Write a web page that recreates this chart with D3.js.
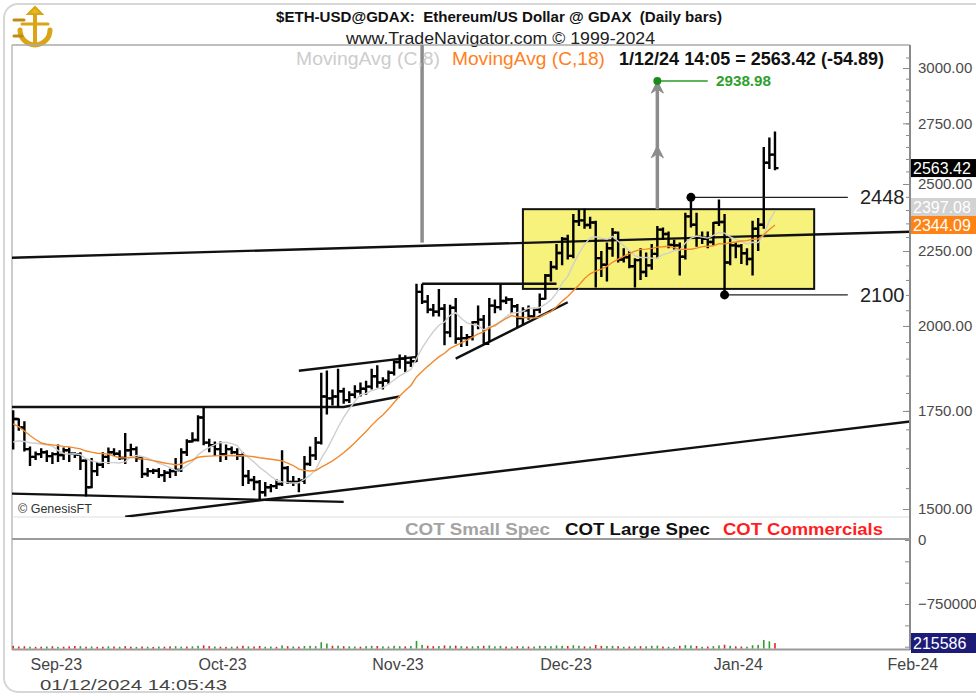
<!DOCTYPE html>
<html>
<head>
<meta charset="utf-8">
<title>ETH-USD daily bars</title>
<script src="https://cdn.jsdelivr.net/npm/d3@7"></script>
<style>
  body { margin: 0; background: #fff; }
  svg { display: block; }
  text { font-family: "Liberation Sans Narrow", "Arial Narrow", "Liberation Sans", Arial, sans-serif; }
</style>
</head>
<body>
<svg width="976" height="696"></svg>
<script>
// ---- data ----
const firstDay = "2023-08-29";

// closes before the first bar, only used to warm up the moving averages
const warmupCloses = [1850, 1848, 1843, 1827, 1805, 1685, 1665, 1668, 1683, 1660, 1680, 1662, 1655, 1645, 1655, 1650, 1658];

const opens = [
  1652, 1728, 1705,
  1648, 1628, 1635, 1640, 1630, 1635, 1633, 1645, 1636, 1634, 1618, 1552, 1592, 1608, 1628, 1640, 1636, 1625, 1645, 1648, 1625, 1585, 1592, 1593, 1582, 1588, 1592, 1595, 1640, 1668,
  1672, 1732, 1665, 1658, 1648, 1635, 1648, 1640, 1632, 1580, 1570, 1565, 1540, 1552, 1555, 1560, 1600, 1565, 1565, 1568, 1610, 1632, 1665, 1790, 1785, 1790, 1805, 1780, 1795, 1805, 1812,
  1818, 1848, 1830, 1835, 1858, 1890, 1900, 1888, 1892, 2110, 2078, 2052, 2045, 2055, 1980, 2058, 1960, 1962, 1965, 2012, 2020, 1945, 2065, 2060, 2080, 2085, 2063, 2025, 2050, 2030,
  2052, 2087, 2165, 2194, 2243, 2293, 2233, 2358, 2361, 2344, 2353, 2225, 2202, 2260, 2316, 2220, 2228, 2197, 2218, 2177, 2200, 2240, 2327, 2311, 2272, 2270, 2230, 2376, 2345, 2300, 2294,
  2282, 2352, 2355, 2210, 2270, 2268, 2242, 2222, 2330, 2345, 2585, 2618
];
const highs = [
  1752, 1729, 1722,
  1655, 1642, 1650, 1645, 1640, 1660, 1652, 1652, 1640, 1640, 1623, 1625, 1615, 1640, 1652, 1650, 1645, 1690, 1662, 1655, 1630, 1600, 1598, 1600, 1595, 1598, 1625, 1650, 1674, 1692,
  1738, 1760, 1675, 1668, 1668, 1660, 1655, 1650, 1640, 1595, 1580, 1570, 1565, 1560, 1572, 1645, 1605, 1580, 1575, 1630, 1655, 1680, 1858, 1865, 1810, 1870, 1815, 1805, 1822, 1830, 1835,
  1870, 1880, 1845, 1865, 1895, 1912, 1910, 1905, 2137, 2137, 2100, 2070, 2120, 2070, 2068, 2090, 2000, 1975, 2015, 2065, 2035, 2090, 2085, 2135, 2095, 2090, 2070, 2060, 2065, 2058,
  2105, 2170, 2215, 2275, 2300, 2308, 2385, 2400, 2405, 2375, 2360, 2250, 2280, 2333, 2320, 2260, 2250, 2225, 2260, 2245, 2275, 2340, 2335, 2320, 2290, 2280, 2390, 2448, 2390, 2320, 2320,
  2355, 2440, 2385, 2295, 2280, 2275, 2260, 2360, 2370, 2650, 2690, 2715
];
const lows = [
  1647, 1696, 1642,
  1605, 1620, 1625, 1615, 1610, 1615, 1620, 1615, 1625, 1595, 1530, 1550, 1580, 1600, 1610, 1630, 1620, 1610, 1630, 1615, 1575, 1578, 1585, 1575, 1565, 1575, 1580, 1590, 1630, 1665,
  1668, 1658, 1640, 1630, 1615, 1620, 1635, 1620, 1555, 1560, 1545, 1522, 1530, 1540, 1548, 1555, 1560, 1555, 1540, 1560, 1605, 1620, 1660, 1740, 1765, 1760, 1770, 1772, 1785, 1790, 1795,
  1810, 1815, 1810, 1825, 1850, 1870, 1860, 1875, 1890, 2070, 2040, 2030, 2030, 1940, 1965, 1945, 1935, 1938, 1955, 1990, 1945, 1950, 2040, 2050, 2070, 2040, 1995, 2005, 2020, 2025,
  2040, 2085, 2145, 2185, 2200, 2220, 2225, 2340, 2330, 2330, 2125, 2160, 2145, 2230, 2210, 2210, 2190, 2125, 2150, 2160, 2185, 2225, 2290, 2260, 2255, 2165, 2220, 2335, 2265, 2275, 2260,
  2270, 2340, 2100, 2200, 2225, 2205, 2200, 2165, 2250, 2330, 2560, 2555
];
const closes = [
  1728, 1705, 1648,
  1628, 1635, 1640, 1630, 1635, 1633, 1645, 1636, 1634, 1618, 1552, 1592, 1608, 1628, 1640, 1636, 1625, 1645, 1648, 1625, 1585, 1592, 1593, 1582, 1588, 1592, 1595, 1640, 1668, 1672,
  1732, 1665, 1658, 1648, 1635, 1648, 1640, 1632, 1580, 1570, 1565, 1540, 1552, 1555, 1560, 1600, 1565, 1565, 1568, 1610, 1632, 1665, 1790, 1785, 1790, 1805, 1780, 1795, 1805, 1812, 1818,
  1848, 1830, 1835, 1858, 1890, 1900, 1888, 1892, 2110, 2078, 2052, 2045, 2055, 1980, 2058, 1960, 1962, 1965, 2012, 2020, 1945, 2065, 2060, 2080, 2085, 2063, 2025, 2050, 2030, 2052,
  2087, 2165, 2194, 2243, 2293, 2233, 2358, 2361, 2344, 2353, 2225, 2202, 2260, 2316, 2220, 2228, 2197, 2218, 2177, 2200, 2240, 2327, 2311, 2272, 2270, 2230, 2376, 2345, 2300, 2294, 2282,
  2352, 2355, 2210, 2270, 2268, 2242, 2222, 2330, 2345, 2585, 2618, 2563
];

// COT histogram (green = positive, red = negative)
const cotValues = [
  -30000, -22000, -25000,
  20000, -18000, -20000, 22000, -25000, 18000, -20000, -24000, -28000, 26000, -20000, 22000, -18000, -20000, 24000, -22000, 20000, -26000, -20000, 18000, -22000, 20000, -18000, 22000, -20000, -24000, 26000, 20000, -22000, 24000,
  30000, -35000, -26000, 22000, -20000, -18000, 20000, -22000, -30000, 24000, -22000, -28000, 20000, 22000, -18000, 34000, -26000, 22000, -20000, 28000, 30000, 26000, 70000, 55000, -30000, 32000, -26000, 24000, 22000, -20000, 26000,
  30000, -28000, 24000, 22000, 30000, 26000, -24000, 28000, 85000, 40000, -30000, -26000, 28000, -34000, 30000, -32000, 26000, -22000, 24000, 28000, -30000, 34000, 24000, 30000, -22000, 20000, -26000, 24000, -22000, 22000,
  30000, 28000, 26000, 34000, 30000, -28000, 36000, 30000, -24000, 22000, -40000, -30000, 28000, 30000, -26000, 20000, -22000, 24000, -26000, 24000, 30000, 32000, -22000, 20000, 18000, -30000, 38000, 34000, -28000, 20000, -22000,
  26000, 34000, -42000, 30000, -24000, -22000, 20000, 36000, 40000, 95000, 80000, -60000
];

const priceTicks = [1500, 1750, 2000, 2250, 2500, 2750, 3000];
const cotTickLabels = [0, -750000];

// drawn trend lines: [date, price] points
const trendLines = [
  [["2023-08-28", 2226], ["2024-02-06", 2320]],
  [["2023-09-18", 1482], ["2024-02-06", 1723]],
  [["2023-08-28", 1761], ["2023-10-27", 1761], ["2023-11-06", 1790]],
  [["2023-10-19", 1864], ["2023-11-09", 1905]],
  [["2023-08-28", 1537], ["2023-10-27", 1517]],
  [["2023-11-10", 2137], ["2023-12-04", 2137]],
  [["2023-11-16", 1900], ["2023-12-06", 2076]]
];
const rangeBox = { from: "2023-11-28", to: "2024-01-19", top: 2403, bottom: 2120 };
const levelMarks = [
  { date: "2023-12-28", price: 2448, end: "2024-01-25", label: "2448" },
  { date: "2024-01-03", price: 2100, end: "2024-01-25", label: "2100" }
];
const measuredMoves = [
  { date: "2023-11-10", from: 2280, to: 3150, heads: [] },
  { date: "2023-12-22", from: 2403, to: 2938.98, heads: [2938.98, 2655] }
];
const target = { date: "2023-12-22", price: 2938.98, end: "2023-12-31", label: "2938.98" };

const lastQuote = 2563.42;
const ma8Last = 2397.08;
const ma18Last = 2344.09;
const cotLast = "215586";

// ---- setup ----
const parse = d3.timeParse("%Y-%m-%d");
const svg = d3.select("svg");
const L = 12, R = 910, T = 45, B = 517;

const days = d3.timeDay.range(parse(firstDay), d3.timeDay.offset(parse(firstDay), closes.length));
const bars = days.map((d, i) => ({ date: d, o: opens[i], h: highs[i], l: lows[i], c: closes[i], cot: cotValues[i] }));

const x = d3.scaleTime().domain([new Date(2023, 8, 1), new Date(2024, 1, 1)]).range([30, 887]);
const y = d3.scaleLog().domain([1500, 3000]).range([509, 68]);
const yCot = d3.scaleLinear().domain([-1277000, 0]).range([649, 540]);
// histogram heights use their own scale
const hCot = d3.scaleLinear().domain([0, 100000]).range([0, 9]);

const allCloses = warmupCloses.concat(closes);
function movingAvg(n) {
  return bars.map((b, i) => {
    const k = i + warmupCloses.length;
    return { date: b.date, v: d3.mean(allCloses.slice(k - n + 1, k + 1)) };
  });
}

// outer frame
svg.append("rect").attr("x", 4).attr("y", 4).attr("width", 1010).attr("height", 688)
  .attr("rx", 14).attr("fill", "none").attr("stroke", "#d6d6d6").attr("stroke-width", 2);

// logo
const logo = svg.append("g").attr("fill", "none").attr("stroke", "#d9a514").attr("stroke-linecap", "round");
logo.append("path").attr("d", "M20,30 A15,15 0 0 0 50,30").attr("stroke-width", 5);
logo.append("line").attr("x1", 35).attr("y1", 9).attr("x2", 35).attr("y2", 44).attr("stroke-width", 4);
logo.append("line").attr("x1", 22).attr("y1", 24).attr("x2", 48).attr("y2", 24).attr("stroke-width", 3);
logo.append("path").attr("d", "M28,14 L35,7 L42,14 Z").attr("fill", "#e8b820").attr("stroke-width", 2);
logo.append("path").attr("d", "M14,20 L24,20 M14,36 L22,36").attr("stroke", "#c08a10").attr("stroke-width", 3);

// titles
svg.append("text").attr("x", 276).attr("y", 22).style("white-space", "pre")
  .attr("font-size", 15).attr("font-weight", "bold").attr("fill", "#111")
  .attr("textLength", 446).attr("lengthAdjust", "spacingAndGlyphs")
  .text("$ETH-USD@GDAX:  Ethereum/US Dollar @ GDAX  (Daily bars)");
svg.append("text").attr("x", 346).attr("y", 44)
  .attr("font-size", 17).attr("fill", "#222")
  .attr("textLength", 309).attr("lengthAdjust", "spacingAndGlyphs")
  .text("www.TradeNavigator.com \u00a9 1999-2024");

// panel borders
svg.append("line").attr("x1", L).attr("x2", R).attr("y1", T).attr("y2", T).attr("stroke", "#aaa").attr("stroke-width", 1.5);
svg.append("line").attr("x1", L).attr("x2", L).attr("y1", T).attr("y2", 650).attr("stroke", "#bbb").attr("stroke-width", 1.5);
svg.append("line").attr("x1", L).attr("x2", R).attr("y1", B).attr("y2", B).attr("stroke", "#ddd").attr("stroke-width", 1);

// clip for price panel
svg.append("clipPath").attr("id", "clipPrice").append("rect")
  .attr("x", L).attr("y", T).attr("width", R - L).attr("height", B - T);
const plot = svg.append("g").attr("clip-path", "url(#clipPrice)");

// yellow range box
plot.append("rect")
  .attr("x", x(parse(rangeBox.from))).attr("y", y(rangeBox.top))
  .attr("width", x(parse(rangeBox.to)) - x(parse(rangeBox.from)))
  .attr("height", y(rangeBox.bottom) - y(rangeBox.top))
  .attr("fill", "#f6f27c").attr("stroke", "#111").attr("stroke-width", 2);

// trend lines
const trendLine = d3.line().x(p => x(parse(p[0]))).y(p => y(p[1]));
plot.selectAll("path.trend").data(trendLines).enter().append("path")
  .attr("class", "trend").attr("d", trendLine)
  .attr("fill", "none").attr("stroke", "#111").attr("stroke-width", 2.4);

// gray measured-move arrows
measuredMoves.forEach(m => {
  const xm = x(parse(m.date));
  plot.append("line").attr("x1", xm).attr("x2", xm).attr("y1", y(m.from)).attr("y2", y(m.to))
    .attr("stroke", "#8c8c8c").attr("stroke-width", 3.5);
  m.heads.forEach(h => {
    const yh = y(h);
    plot.append("path").attr("d", `M${xm},${yh} L${xm - 6},${yh + 12} L${xm},${yh + 8} L${xm + 6},${yh + 12} Z`)
      .attr("fill", "#8c8c8c").attr("stroke", "#8c8c8c").attr("stroke-width", 1);
  });
});

// target label
const tx = x(parse(target.date)), ty = y(target.price);
svg.append("line").attr("x1", tx).attr("x2", x(parse(target.end))).attr("y1", ty).attr("y2", ty)
  .attr("stroke", "#2a9a2a").attr("stroke-width", 1.5);
svg.append("circle").attr("cx", tx).attr("cy", ty).attr("r", 4).attr("fill", "#1b8c1b");
svg.append("text").attr("x", 716).attr("y", ty + 5).attr("font-size", 14).attr("font-weight", "bold")
  .attr("fill", "#2f9f2f").attr("textLength", 55).attr("lengthAdjust", "spacingAndGlyphs").text(target.label);

// OHLC bars
const tick = 3.5;
plot.selectAll("path.bar").data(bars).enter().append("path")
  .attr("class", "bar")
  .attr("d", b => {
    const xb = x(b.date);
    return `M${xb},${y(b.h)}V${y(b.l)}M${xb - tick},${y(b.o)}H${xb}M${xb},${y(b.c)}H${xb + tick}`;
  })
  .attr("fill", "none").attr("stroke", "#000").attr("stroke-width", 2.4);

// moving averages
const maLine = d3.line().x(d => x(d.date)).y(d => y(d.v));
plot.append("path").datum(movingAvg(8)).attr("d", maLine)
  .attr("fill", "none").attr("stroke", "#cfcfcf").attr("stroke-width", 1.4);
plot.append("path").datum(movingAvg(18)).attr("d", maLine)
  .attr("fill", "none").attr("stroke", "#f28a2c").attr("stroke-width", 1.4);

// level marks with dots
levelMarks.forEach(m => {
  const xm = x(parse(m.date)), ym = y(m.price);
  svg.append("line").attr("x1", xm).attr("x2", x(parse(m.end))).attr("y1", ym).attr("y2", ym)
    .attr("stroke", "#222").attr("stroke-width", 1.3);
  svg.append("circle").attr("cx", xm).attr("cy", ym).attr("r", 4.5).attr("fill", "#000");
  svg.append("text").attr("x", 860).attr("y", ym + 7)
    .attr("font-family", "'Liberation Sans', Arial, sans-serif").attr("font-size", 20).attr("fill", "#222")
    .text(m.label);
});

// legend line
const legend = [
  { text: "MovingAvg (C,8)", x: 296, w: 144, color: "#cccccc", weight: "normal" },
  { text: "MovingAvg (C,18)", x: 452, w: 153, color: "#ff7f1e", weight: "normal" },
  { text: "1/12/24 14:05 = 2563.42 (-54.89)", x: 619, w: 265, color: "#111", weight: "bold" }
];
svg.selectAll("text.leg").data(legend).enter().append("text")
  .attr("class", "leg").attr("x", d => d.x).attr("y", 65)
  .attr("font-size", 18).attr("font-weight", d => d.weight).attr("fill", d => d.color)
  .attr("textLength", d => d.w).attr("lengthAdjust", "spacingAndGlyphs").text(d => d.text);

// copyright box
svg.append("rect").attr("x", L + 1).attr("y", 499).attr("width", 96).attr("height", 17).attr("fill", "#fff");
svg.append("text").attr("x", 18).attr("y", 513).attr("font-family", "'Liberation Sans', Arial, sans-serif")
  .attr("font-size", 12.5).attr("fill", "#333").text("\u00a9 GenesisFT");

// right price axis
const axisColor = "#8a8a8a";
const minorTicks = d3.range(1500, 3051, 50);
svg.append("g").attr("transform", `translate(${R},0)`)
  .call(d3.axisRight(y).tickValues(minorTicks).tickSizeInner(-4).tickSizeOuter(0).tickFormat(""))
  .call(g => g.select(".domain").remove())
  .call(g => g.selectAll("line").attr("stroke", axisColor));
svg.append("g").attr("transform", `translate(${R},0)`)
  .call(d3.axisRight(y).tickValues(priceTicks).tickSizeInner(-7).tickSizeOuter(0).tickPadding(8).tickFormat(d3.format(".2f")))
  .call(g => g.select(".domain").remove())
  .call(g => g.selectAll("line").attr("stroke", axisColor))
  .call(g => g.selectAll("text").attr("font-family", "'Liberation Sans', Arial, sans-serif")
    .attr("font-size", 15).attr("fill", "#4a4a4a"));
svg.append("line").attr("x1", R).attr("x2", R).attr("y1", T).attr("y2", 650)
  .attr("stroke", axisColor).attr("stroke-width", 2);

// value flags on the axis
const flags = [
  { v: lastQuote, bg: "#000", fg: "#fff" },
  { v: ma8Last, bg: "#d2d2d2", fg: "#fff" },
  { v: ma18Last, bg: "#ff8214", fg: "#fff" }
].map(f => ({ ...f, cy: y(f.v) }));
const flagH = 18;
for (let i = flags.length - 2; i >= 0; i--) {
  if (flags[i + 1].cy - flags[i].cy < flagH) flags[i].cy = flags[i + 1].cy - flagH;
}
const flagG = svg.selectAll("g.flag").data(flags).enter().append("g").attr("class", "flag");
flagG.append("rect").attr("x", R + 1).attr("y", d => d.cy - flagH / 2).attr("width", 70).attr("height", flagH)
  .attr("fill", d => d.bg);
flagG.append("text").attr("x", R + 3).attr("y", d => d.cy + 6)
  .attr("font-family", "'Liberation Sans', Arial, sans-serif").attr("font-size", 16)
  .attr("fill", d => d.fg).text(d => d3.format(".2f")(d.v));

// COT legend
const cotLegend = [
  { text: "COT Small Spec", x: 405, w: 145, color: "#a3a3a3" },
  { text: "COT Large Spec", x: 565, w: 145, color: "#111" },
  { text: "COT Commercials", x: 723, w: 160, color: "#ff1e1e" }
];
svg.selectAll("text.cotleg").data(cotLegend).enter().append("text")
  .attr("class", "cotleg").attr("x", d => d.x).attr("y", 535)
  .attr("font-size", 17).attr("font-weight", "bold").attr("fill", d => d.color)
  .attr("textLength", d => d.w).attr("lengthAdjust", "spacingAndGlyphs").text(d => d.text);

// COT panel
svg.append("line").attr("x1", L).attr("x2", R).attr("y1", 539).attr("y2", 539).attr("stroke", "#9a9a9a").attr("stroke-width", 2);
svg.append("line").attr("x1", L).attr("x2", R).attr("y1", 649.5).attr("y2", 649.5).attr("stroke", "#9a9a9a").attr("stroke-width", 2);
svg.selectAll("rect.cot").data(bars).enter().append("rect")
  .attr("class", "cot").attr("x", b => x(b.date) - 0.8).attr("width", 1.6)
  .attr("y", b => 648.5 - hCot(Math.abs(b.cot))).attr("height", b => hCot(Math.abs(b.cot)))
  .attr("fill", b => b.cot >= 0 ? "#2e9e2e" : "#e82020");

svg.append("g").attr("transform", `translate(${R},0)`)
  .call(d3.axisRight(yCot).tickValues(d3.range(0, -1277000, -250000)).tickSizeInner(-5).tickSizeOuter(0).tickFormat(""))
  .call(g => g.select(".domain").remove())
  .call(g => g.selectAll("line").attr("stroke", axisColor));
svg.append("g").attr("transform", `translate(${R},0)`)
  .call(d3.axisRight(yCot).tickValues(cotTickLabels).tickSize(0).tickPadding(8).tickFormat(d3.format("d")))
  .call(g => g.select(".domain").remove())
  .call(g => g.selectAll("text").attr("font-family", "'Liberation Sans', Arial, sans-serif")
    .attr("font-size", 15).attr("fill", "#4a4a4a"));
svg.append("rect").attr("x", R + 1).attr("y", 633).attr("width", 70).attr("height", 20).attr("fill", "#1c1c78");
svg.append("text").attr("x", R + 3).attr("y", 649).attr("font-family", "'Liberation Sans', Arial, sans-serif")
  .attr("font-size", 16).attr("fill", "#fff").text(cotLast);

// date axis
svg.append("g").attr("transform", "translate(0,656)")
  .call(d3.axisBottom(x).ticks(d3.timeMonth.every(1)).tickSize(0).tickPadding(0).tickFormat(d3.timeFormat("%b-%y")))
  .call(g => g.select(".domain").remove())
  .call(g => g.selectAll("text").attr("text-anchor", "start").attr("dy", "0.9em")
    .attr("font-size", 16).attr("fill", "#444"));

// timestamp
svg.append("text").attr("x", 40).attr("y", 690)
  .attr("font-family", "'Liberation Mono', 'DejaVu Sans Mono', monospace").attr("font-size", 14).attr("fill", "#444")
  .attr("textLength", 187).attr("lengthAdjust", "spacingAndGlyphs").text("01/12/2024 14:05:43");
</script>
</body>
</html>
